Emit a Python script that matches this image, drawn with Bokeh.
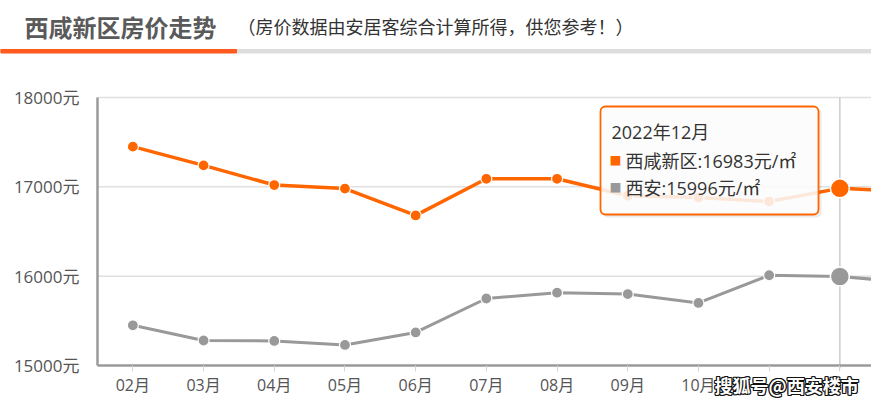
from bokeh.plotting import figure
from bokeh.models import (Range1d, FixedTicker, PrintfTickFormatter, BoxAnnotation,
                          Label, ColumnDataSource)
from bokeh.core.properties import value
from bokeh.embed import file_html
from bokeh.resources import INLINE

# ---------------- data ----------------
months = ["02月", "03月", "04月", "05月", "06月", "07月", "08月", "09月", "10月", "11月", "12月", "01月"]
xixian = [17450, 17240, 17020, 16980, 16680, 17090, 17090, 16900, 16880, 16835, 16983, 16950]
xian = [15450, 15280, 15275, 15230, 15370, 15750, 15815, 15800, 15700, 16010, 15996, 15930]
y_ticks = [15000, 16000, 17000, 18000]
series_names = ["西咸新区", "西安"]
tooltip_title = "2022年12月"
tooltip_index = 10
title_text = "西咸新区房价走势"
subtitle_text = "（房价数据由安居客综合计算所得，供您参考！）"
watermark = "搜狐号@西安楼市"

ORANGE = "#ff6600"
GRAY = "#999999"
CJK = "'Open Sans', 'Noto Sans CJK SC'"
CJK_B = "'Noto Sans CJK SC'"

W, H = 871, 401
FRAME_LEFT, FRAME_TOP, FRAME_BOTTOM = 97, 97, 365  # page pixels of the plotting area
BAND = 70.7
Y0, Y1 = 15000, 18000


def xd(px):
    return (px - FRAME_LEFT) / BAND - 0.5


def yd(py):
    return Y1 - (py - FRAME_TOP) / (FRAME_BOTTOM - FRAME_TOP) * (Y1 - Y0)


X_END = xd(W)

p = figure(width=W, height=H, output_backend="svg", toolbar_location=None,
           x_range=Range1d(xd(0), X_END), y_range=Range1d(yd(H), yd(0)), min_border=0)
p.outline_line_color = None
p.background_fill_color = "white"
p.border_fill_color = "white"
p.grid.visible = False

# ---------------- header ----------------
p.text(x=[xd(24)], y=[yd(26)], text=[title_text], text_font=value(CJK_B), text_font_style="bold",
       text_font_size="24px", text_color="#5a5a5a", text_baseline="middle")
p.text(x=[xd(237)], y=[yd(26)], text=[subtitle_text], text_font=value(CJK),
       text_font_size="18px", text_color="#333333", text_baseline="middle")
p.quad(left=[xd(236)], right=[xd(W)], top=[yd(49)], bottom=[yd(52.5)], color="#dddddd")
p.quad(left=[xd(0)], right=[xd(236)], top=[yd(49)], bottom=[yd(52.5)], color="#ff5a1f")

# ---------------- axes ----------------
p.yaxis.fixed_location = -0.5
p.yaxis.bounds = (Y0, Y1)
p.yaxis.ticker = FixedTicker(ticks=y_ticks)
p.yaxis.formatter = PrintfTickFormatter(format="%d元")
p.yaxis.axis_line_color = "#9a9a9a"
p.yaxis.axis_line_width = 2.5
p.yaxis.major_tick_line_color = None
p.yaxis.minor_tick_line_color = None
p.yaxis.major_label_text_font = CJK
p.yaxis.major_label_text_font_size = "17px"
p.yaxis.major_label_text_color = "#555555"
p.yaxis.major_label_standoff = 12

xs = list(range(len(months)))
p.xaxis.fixed_location = Y0
p.xaxis.bounds = (-0.5, X_END)
p.xaxis.ticker = FixedTicker(ticks=xs)
p.xaxis.major_label_overrides = {i: m for i, m in enumerate(months)}
p.xaxis.axis_line_color = "#9a9a9a"
p.xaxis.axis_line_width = 2.5
p.xaxis.major_tick_line_color = "#ccd6eb"
p.xaxis.major_tick_in = 0
p.xaxis.major_tick_out = 6
p.xaxis.minor_tick_line_color = None
p.xaxis.major_label_text_font = CJK
p.xaxis.major_label_text_font_size = "16px"
p.xaxis.major_label_text_color = "#555555"
p.xaxis.major_label_standoff = 2

# horizontal grid lines across the plotting area
grid_y = y_ticks[1:]
p.segment(x0=[-0.5] * len(grid_y), y0=grid_y, x1=[X_END] * len(grid_y), y1=grid_y,
          line_color="#e0e0e0", line_width=1.5)

# crosshair at the hovered month
p.segment(x0=[tooltip_index], y0=[Y1], x1=[tooltip_index], y1=[yd(368)],
          line_color="#cccccc", line_width=1.5)

# ---------------- series ----------------
src = ColumnDataSource(dict(x=xs, a=xixian, b=xian))
p.line("x", "b", source=src, line_color=GRAY, line_width=3)
p.scatter("x", "b", source=src, size=11, fill_color=GRAY, line_color="white", line_width=1.2)
p.line("x", "a", source=src, line_color=ORANGE, line_width=3.5)
p.scatter("x", "a", source=src, size=11, fill_color=ORANGE, line_color="white", line_width=1.2)

hs = ColumnDataSource(dict(x=[tooltip_index], a=[xixian[tooltip_index]], b=[xian[tooltip_index]]))
p.scatter("x", "b", source=hs, size=19, fill_color=GRAY, line_color="white", line_width=1.5)
p.scatter("x", "a", source=hs, size=19, fill_color=ORANGE, line_color="white", line_width=1.5)

# ---------------- tooltip ----------------
p.add_layout(BoxAnnotation(left=xd(602), right=xd(821), top=yd(108), bottom=yd(217),
                           fill_color="black", fill_alpha=0.08, line_color=None, border_radius=5))
p.add_layout(BoxAnnotation(left=xd(600), right=xd(818), top=yd(106), bottom=yd(214),
                           fill_color="white", fill_alpha=0.86, line_color=ORANGE, line_alpha=1.0,
                           line_width=1.8, border_radius=5))
tip_font = "18px"
p.add_layout(Label(x=xd(611), y=yd(131), text=tooltip_title, text_font=CJK,
                   text_font_size=tip_font, text_color="#333333", text_baseline="middle"))
line1 = f"{series_names[0]}:{xixian[tooltip_index]}元/㎡"
line2 = f"{series_names[1]}:{xian[tooltip_index]}元/㎡"
p.add_layout(Label(x=xd(609), y=yd(160), text="■", text_font=CJK_B,
                   text_font_size="12px", text_color=ORANGE, text_baseline="middle"))
p.add_layout(Label(x=xd(609), y=yd(187), text="■", text_font=CJK_B,
                   text_font_size="12px", text_color=GRAY, text_baseline="middle"))
p.add_layout(Label(x=xd(625), y=yd(160), text=line1, text_font=CJK,
                   text_font_size=tip_font, text_color="#333333", text_baseline="middle"))
p.add_layout(Label(x=xd(625), y=yd(187), text=line2, text_font=CJK,
                   text_font_size=tip_font, text_color="#333333", text_baseline="middle"))

# ---------------- watermark (white text, dark outline) ----------------
# white patch hiding the axis labels underneath the watermark
p.add_layout(Label(x=xd(724), y=yd(384), text=watermark, text_font=CJK_B,
                   text_font_style="bold", text_font_size="18px", text_color="white",
                   background_fill_color="white", background_fill_alpha=1.0,
                   text_baseline="middle"))
wx, wy = xd(714), yd(384)
for dx, dy in [(-1, -1), (-1, 0), (-1, 1), (0, -1), (0, 1), (1, -1), (1, 0), (1, 1)]:
    p.add_layout(Label(x=wx, y=wy, x_offset=dx, y_offset=dy, text=watermark, text_font=CJK_B,
                       text_font_style="bold", text_font_size="18px", text_color="#111111",
                       text_baseline="middle"))
p.add_layout(Label(x=wx, y=wy, text=watermark, text_font=CJK_B, text_font_style="bold",
                   text_font_size="18px", text_color="white", text_baseline="middle"))

open("out.html", "w").write(file_html(p, INLINE))
